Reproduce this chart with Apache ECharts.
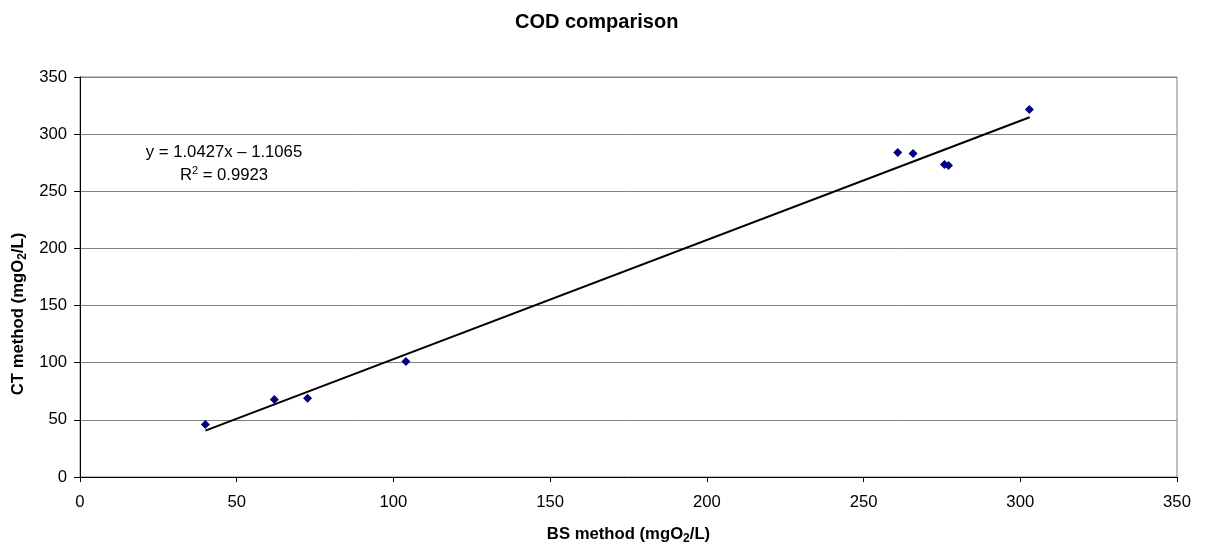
<!DOCTYPE html>
<html><head><meta charset="utf-8">
<script src="https://cdn.jsdelivr.net/npm/echarts@6/dist/echarts.min.js"></script>
<style>html,body{margin:0;padding:0;background:#fff}#c{width:1206px;height:544px}</style>
</head><body><div id="c"></div>
<script>
const bsValues = [40, 62, 72.6, 104, 260.9, 265.8, 275.8, 277.1, 302.9];
const ctValues = [46, 67.8, 69, 101, 284, 283, 273.5, 272.5, 321.5];
const trendX = [40, 303];
const trendY = [40.6, 314.8];
const titleText = 'COD comparison';
const xNameRich = '{a|BS method (mgO}{s|2}{a|/L)}';
const yNameRich = '{a|CT method (mgO}{s|2}{a|/L)}';
const eqText = 'y = 1.0427x – 1.1065';
const r2Rich = '{r|R}{p|2}{r| = 0.9923}';

const font = '"Liberation Sans", Arial, sans-serif';
const FS = 16.7;
const nameRich = {
  a: {fontFamily: font, fontSize: FS, fontWeight: 'bold', color: '#000', lineHeight: 22},
  s: {fontFamily: font, fontSize: 12, fontWeight: 'bold', color: '#000', verticalAlign: 'bottom', lineHeight: 13}
};
const chart = echarts.init(document.getElementById('c'), null, {renderer: 'canvas'});
chart.setOption({
  animation: false,
  backgroundColor: '#fff',
  title: {text: titleText, left: 510, top: 7,
    textStyle: {fontFamily: font, fontSize: 20, fontWeight: 'bold', color: '#000'}},
  grid: {left: 80, right: 29, top: 77, bottom: 67, show: true, borderColor: '#808080', borderWidth: 1,
    outerBoundsMode: 'none', containLabel: false},
  xAxis: {
    type: 'value', min: 0, max: 350, interval: 50,
    name: xNameRich, nameLocation: 'middle', nameGap: 46,
    nameTextStyle: {rich: nameRich},
    axisLine: {lineStyle: {color: '#000', width: 1}},
    axisTick: {show: true, length: 5, lineStyle: {color: '#000'}},
    axisLabel: {fontFamily: font, fontSize: FS, color: '#000', margin: 17},
    splitLine: {show: false}
  },
  yAxis: {
    type: 'value', min: 0, max: 350, interval: 50,
    axisLine: {show: true, lineStyle: {color: '#000', width: 1}},
    axisTick: {show: true, length: 6, lineStyle: {color: '#000'}},
    axisLabel: {fontFamily: font, fontSize: FS, color: '#000', margin: 13},
    splitLine: {show: true, lineStyle: {color: '#808080', width: 1}}
  },
  series: [
    {type: 'line', data: trendX.map((x, i) => [x, trendY[i]]), symbol: 'none',
      lineStyle: {color: '#000', width: 2}, z: 3},
    {type: 'scatter', data: bsValues.map((x, i) => [x, ctValues[i]]), symbol: 'diamond',
      symbolSize: 9, itemStyle: {color: '#000080', opacity: 1}, z: 4}
  ],
  graphic: [
    {type: 'text', x: 18, y: 314, rotation: Math.PI / 2,
      style: {text: yNameRich, rich: nameRich, align: 'center', verticalAlign: 'middle'}},
    {type: 'text', x: 224, y: 152, style: {text: eqText, font: FS + 'px ' + font, fill: '#000', align: 'center', verticalAlign: 'middle'}},
    {type: 'text', x: 224, y: 175, style: {text: r2Rich, align: 'center', verticalAlign: 'middle',
      rich: {
        r: {fontFamily: font, fontSize: FS, color: '#000', lineHeight: 20},
        p: {fontFamily: font, fontSize: 11, color: '#000', verticalAlign: 'top', lineHeight: 11}
      }}}
  ]
});
</script></body></html>
